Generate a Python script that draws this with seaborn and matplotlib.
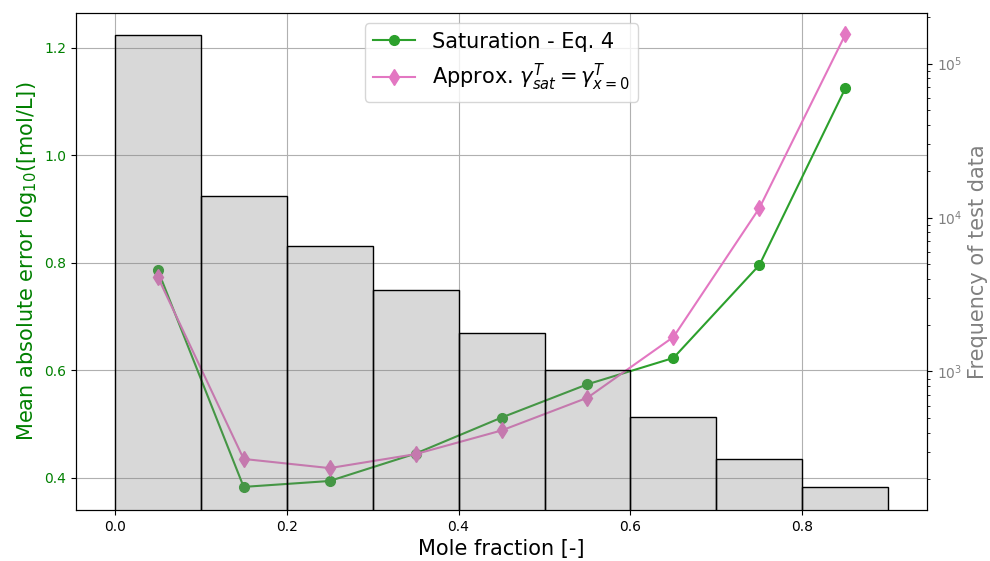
import numpy as np
import pandas as pd
import matplotlib
matplotlib.use("Agg")
import matplotlib.pyplot as plt
import seaborn as sns

# Bin centres of the mole-fraction ranges and histogram edges
mole_fraction = [0.05, 0.15, 0.25, 0.35, 0.45, 0.55, 0.65, 0.75, 0.85]
bin_edges = [0.0, 0.1, 0.2, 0.3, 0.4, 0.5, 0.6, 0.7, 0.8, 0.9]

# Mean absolute error per bin, log10([mol/L])
mae_saturation = [0.787, 0.383, 0.394, 0.445, 0.512, 0.574, 0.623, 0.796, 1.125]
mae_approx = [0.774, 0.435, 0.418, 0.444, 0.488, 0.549, 0.662, 0.902, 1.225]

# Number of test points per bin
test_counts = [153000, 13700, 6550, 3380, 1770, 1020, 506, 272, 179]

label_sat = "Saturation - Eq. 4"
label_approx = r"Approx. $\gamma_{sat}^T = \gamma_{x=0}^T$"

fig = plt.figure(figsize=(9.9, 5.61), dpi=100)
ax1 = fig.add_axes([0.0768, 0.0909, 0.8596, 0.886])
ax2 = ax1.twinx()

df = pd.DataFrame({"x": mole_fraction, "sat": mae_saturation, "approx": mae_approx})

sns.lineplot(data=df, x="x", y="sat", ax=ax1, color="#2ca02c", marker="o",
             markersize=7, markeredgecolor="#2ca02c", markeredgewidth=1,
             linewidth=1.5, label=label_sat)
sns.lineplot(data=df, x="x", y="approx", ax=ax1, color="#e377c2", marker="d",
             markersize=8, markeredgecolor="#e377c2", markeredgewidth=1,
             linewidth=1.5, label=label_approx)

# Histogram of test data on a log-scaled secondary axis
sns.histplot(x=mole_fraction, weights=test_counts, bins=bin_edges, ax=ax2,
             color="gray", alpha=0.3, edgecolor="black", linewidth=1.0)
ax2.set_yscale("log")
ax2.set_ylim(126, 2.13e5)

ax1.set_xlim(-0.045, 0.945)
ax1.set_ylim(0.340, 1.265)
ax1.set_xticks([0.0, 0.2, 0.4, 0.6, 0.8])
ax1.set_yticks([0.4, 0.6, 0.8, 1.0, 1.2])
ax1.grid(True, color="#b0b0b0", linewidth=0.8)
ax1.set_axisbelow(True)

ax1.set_xlabel("Mole fraction [-]", fontsize=15)
ax1.set_ylabel(r"Mean absolute error log$_{10}$([mol/L])", fontsize=15, color="green")
ax1.tick_params(axis="y", colors="green", labelcolor="green")
ax1.tick_params(axis="y", colors="black", labelcolor="green")

ax2.set_ylabel("Frequency of test data", fontsize=15, color="gray")
ax2.tick_params(axis="y", which="both", labelcolor="gray")

handles, labels = ax1.get_legend_handles_labels()
ax1.get_legend().remove()
ax2.legend(handles, labels, loc="upper center", fontsize=15)

fig.savefig("out.png", dpi=100)
